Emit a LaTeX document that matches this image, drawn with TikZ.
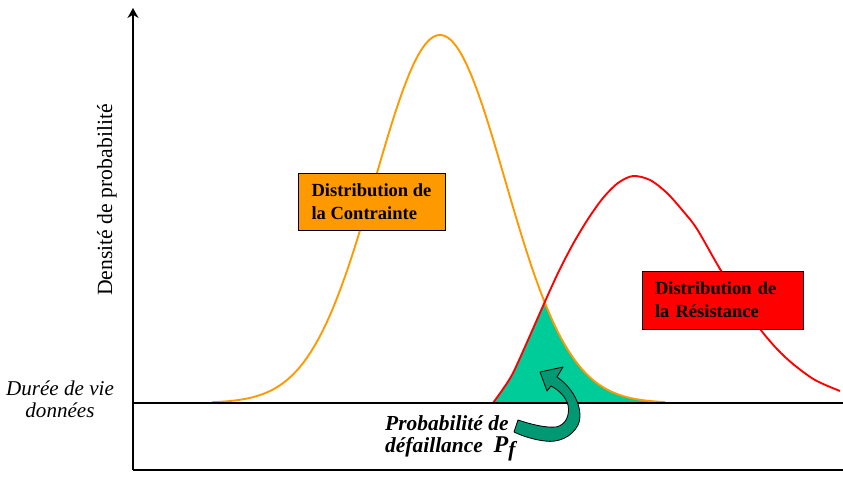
\documentclass[tikz,border=0pt]{standalone}
\usepackage{fontspec}
\setmainfont{Liberation Serif}
\usetikzlibrary{arrows.meta}
\definecolor{orangec}{RGB}{255,153,0}
\definecolor{rouge}{RGB}{255,0,0}
\definecolor{vert}{RGB}{0,204,153}
\definecolor{vertfonce}{RGB}{0,153,115}
\begin{document}
\begin{tikzpicture}[x=0.03cm,y=-0.03cm,
  boite/.style={draw=black,line width=0.6pt,align=left,
    font=\fontsize{15.8}{19.6}\selectfont\bfseries},
  courbe/.style={line width=1.6pt,line join=round}]
\useasboundingbox (0,0) rectangle (843,477);
% zone de defaillance
\fill[vert] plot[smooth] coordinates {(493,403) (503,389) (513,373) (528,340) (545,303)}
  -- plot[domain=545:665,samples=40] ({\x},{403-368*exp(-0.5*pow((\x-440)/65,2))}) -- (665,403) -- cycle;
% les deux distributions
\draw[courbe,orangec] plot[domain=212:665,samples=120] ({\x},{403-368*exp(-0.5*pow((\x-440)/65,2))});
\draw[courbe,rouge] plot[smooth] coordinates {(493,403) (503,389) (513,373) (528,340) (543,306)
  (558,273) (573,244) (588,219) (603,198) (618,183) (633,176) (650,180) (667,193) (683,211)
  (697,229) (720,269) (740,300) (760,329) (777,349) (793,364) (815,380) (840,391)};
% axes
\coordinate (o) at (133,470);
\coordinate (haut) at (133,8);
\coordinate (fin) at (843,470);
\coordinate (b0) at (133,403);
\coordinate (b1) at (843,403);
\draw[line width=1pt,-{Stealth[length=3mm,width=3.3mm]}] (o) -- (haut);
\draw[line width=1pt] (o) -- (fin);
\draw[line width=1pt] (b0) -- (b1);
% textes
\node[rotate=90,font=\fontsize{18.5}{22}\selectfont] (axey) at (107,200) {Densité de probabilité};
\node[align=center,font=\fontsize{18}{18.8}\selectfont\itshape] (duree) at (60,399) {Durée de vie\\données};
\node[boite,fill=orangec,inner xsep=0pt,minimum width=4.41cm,minimum height=1.71cm] (contrainte) at (371.5,201.5) {Distribution de\\la Contrainte};
\node[boite,fill=rouge,inner xsep=0.39cm,text width=4.05cm,minimum height=1.74cm] (resistance) at (722.5,300) {Distribution de\\la Résistance};
\node[anchor=north west,inner sep=0pt,align=left,font=\fontsize{18.3}{19.5}\selectfont\bfseries\itshape] (pf) at (385,415)
  {Probabilité de\\défaillance\hspace{0.5em}{\fontsize{20.5}{19.5}\selectfont P}\raisebox{-0.35ex}{f}};
% fleche courbe
\draw[fill=vertfonce,line width=0.7pt,line join=round] (540,372) -- (563,367) -- (557,377)
  .. controls (576,390) and (584,412) .. (578,425)
  .. controls (572,437) and (558,443) .. (545,441)
  .. controls (535,440) and (522,436) .. (514,432) -- (518,420)
  .. controls (530,424) and (545,428) .. (556,427)
  .. controls (566,425) and (570,415) .. (568,405)
  .. controls (566,397) and (559,390) .. (551,386) -- (547,391) -- cycle;
\end{tikzpicture}
\end{document}
